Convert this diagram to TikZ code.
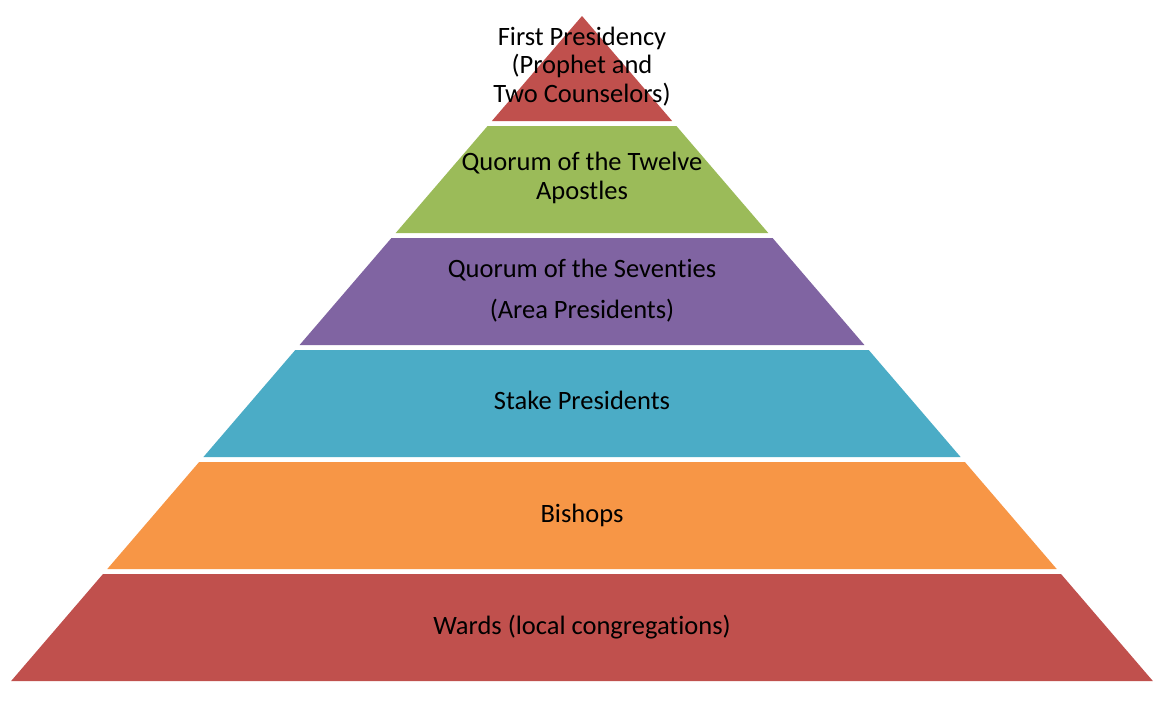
\documentclass[tikz,border=0pt]{standalone}
\usepackage{fontspec}
\setmainfont[Ligatures=NoCommon]{Carlito}
\definecolor{layred}{HTML}{C0504D}
\definecolor{laygreen}{HTML}{9BBB59}
\definecolor{laypurple}{HTML}{8064A2}
\definecolor{layteal}{HTML}{4BACC6}
\definecolor{layorange}{HTML}{F79646}
\tikzset{
  lbl/.style={font=\fontsize{26.5}{28.5}\selectfont, align=center, anchor=base, inner sep=0pt, text=black},
}
\newcommand\pyrhalf[1]{0.85843*(#1-16)}
\newcommand\pyrlayer[3]{%
  \fill[#3] ({582-\pyrhalf{#1}},#1) -- ({582+\pyrhalf{#1}},#1) -- ({582+\pyrhalf{#2}},#2) -- ({582-\pyrhalf{#2}},#2) -- cycle;}
\begin{document}
\begin{tikzpicture}[x=1pt,y=-1pt]
\useasboundingbox (0,0) rectangle (1167,704);
\fill[white] (0,0) rectangle (1167,704);
\pyrlayer{16}{121}{layred}
\pyrlayer{126}{233}{laygreen}
\pyrlayer{238}{345}{laypurple}
\pyrlayer{350}{457}{layteal}
\pyrlayer{462}{569}{layorange}
\pyrlayer{574}{681}{layred}
\node[lbl] (l1) at (582,102) {First Presidency\\(Prophet and\\Two Counselors)};
\node[lbl] (l2) at (582,199) {Quorum of the Twelve\\Apostles};
\node[lbl] (l3) at (582,318) {Quorum of the Seventies\\[12.5pt](Area Presidents)};
\node[lbl] (l4) at (582,409) {Stake Presidents};
\node[lbl] (l5) at (582,522) {Bishops};
\node[lbl] (l6) at (582,634) {Wards (local congregations)};
\end{tikzpicture}
\end{document}
